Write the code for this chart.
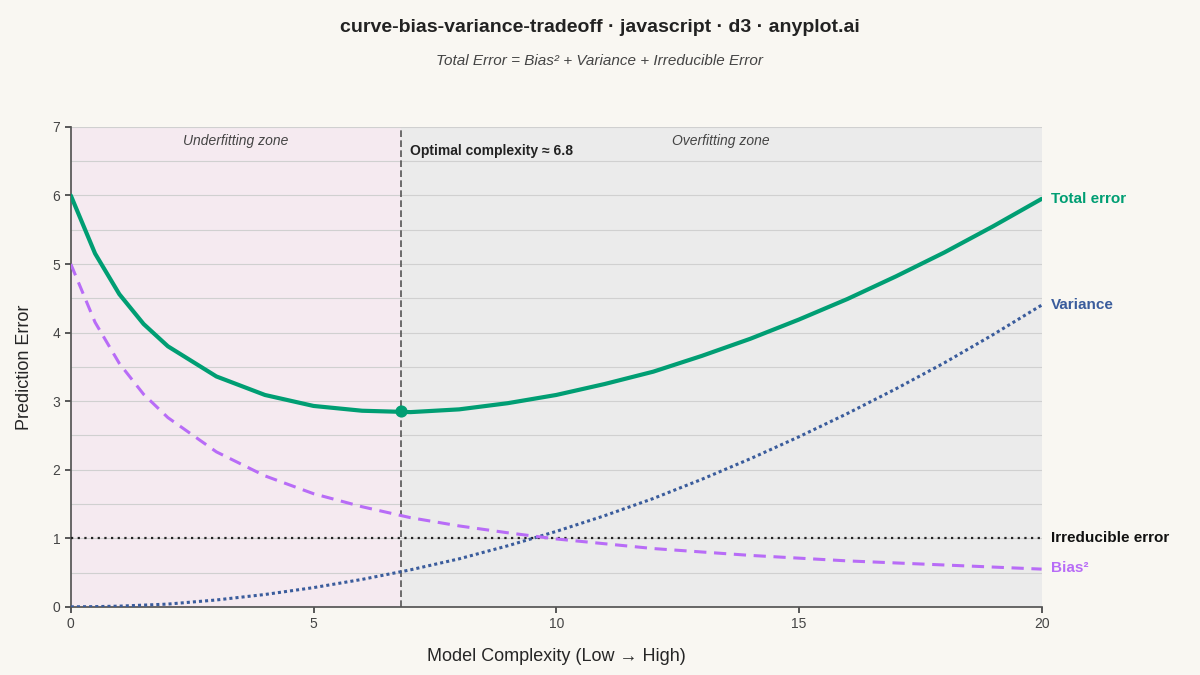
import numpy as np, pandas as pd, seaborn as sns, matplotlib
matplotlib.use("Agg")
import matplotlib.pyplot as plt

complexity = [0, 0.5, 1, 1.5, 2, 3, 4, 5, 6, 7, 8, 9, 10, 11, 12, 13, 14, 15, 16, 17, 18, 19, 20]
bias_sq = [5.0, 4.15, 3.55, 3.1, 2.76, 2.26, 1.91, 1.65, 1.46, 1.30, 1.18, 1.08, 0.99, 0.92, 0.85, 0.80, 0.75, 0.71, 0.67, 0.64, 0.61, 0.58, 0.55]
variance = [0, 0.003, 0.01, 0.025, 0.04, 0.10, 0.18, 0.28, 0.40, 0.54, 0.70, 0.89, 1.10, 1.33, 1.58, 1.86, 2.16, 2.48, 2.82, 3.18, 3.56, 3.97, 4.40]
irreducible = 1.0
optimal_x, optimal_y = 6.8, 2.85

df = pd.DataFrame({"x": complexity, "bias": bias_sq, "var": variance})
df["total"] = df["bias"] + df["var"] + irreducible

sns.set_theme(style="white")
plt.rcParams["font.family"] = ["Liberation Sans", "DejaVu Sans"]
bg = "#f9f7f2"
fig = plt.figure(figsize=(12, 6.75), dpi=100, facecolor=bg)
ax = fig.add_axes([0.059, 0.101, 0.809, 0.711], facecolor=bg)
ax.axvspan(0, optimal_x, color="#f5eaf0", zorder=0)
ax.axvspan(optimal_x, 20, color="#ebebeb", zorder=0)
for g in np.arange(0.5, 7.01, 0.5):
    ax.axhline(g, color="#d0d0d0", lw=0.8, zorder=1)

green, blue, purple = "#009e73", "#3a5c9c", "#b86cf7"
sns.lineplot(data=df, x="x", y="total", ax=ax, color=green, lw=3, zorder=5)
sns.lineplot(data=df, x="x", y="var", ax=ax, color=blue, lw=2.2, ls=(0, (1, 1)), zorder=4)
sns.lineplot(data=df, x="x", y="bias", ax=ax, color=purple, lw=2.2, ls=(0, (4, 2.5)), zorder=4)
ax.axhline(irreducible, color="#222222", lw=1.6, ls=(0, (1, 2)), zorder=3)
ax.axvline(optimal_x, color="#555555", lw=1.2, ls=(0, (4, 2)), zorder=3)
ax.scatter([optimal_x], [optimal_y], color=green, s=60, zorder=6)

ax.set_xlim(0, 20); ax.set_ylim(0, 7)
ax.set_xticks([0, 5, 10, 15, 20]); ax.set_yticks(range(8))
ax.tick_params(labelsize=10, colors="#444444", length=4, left=True, bottom=True)
for s in ["top", "right"]:
    ax.spines[s].set_visible(False)
for s in ["left", "bottom"]:
    ax.spines[s].set_color("#555555")
ax.set_xlabel("Model Complexity (Low → High)", fontsize=13, labelpad=12)
ax.set_ylabel("Prediction Error", fontsize=13, labelpad=14)

ax.text(3.4, 6.9, "Underfitting zone", ha="center", va="top", style="italic", fontsize=10, color="#444444")
ax.text(13.4, 6.9, "Overfitting zone", ha="center", va="top", style="italic", fontsize=10, color="#444444")
ax.text(6.98, 6.65, "Optimal complexity ≈ 6.8", ha="left", va="center", fontsize=10, weight="bold", color="#222222")
lab = dict(ha="left", va="center", fontsize=11, weight="bold", clip_on=False)
ax.text(20.2, df["total"].iloc[-1], "Total error", color=green, **lab)
ax.text(20.2, variance[-1], "Variance", color=blue, **lab)
ax.text(20.2, 1.0, "Irreducible error", color="#111111", **lab)
ax.text(20.2, 0.56, "Bias²", color=purple, **lab)

fig.text(0.5, 0.96, "curve-bias-variance-tradeoff · javascript · d3 · anyplot.ai", ha="center", va="center", fontsize=14, weight="bold", color="#222222")
fig.text(0.5, 0.91, "Total Error = Bias² + Variance + Irreducible Error", ha="center", va="center", fontsize=11, style="italic", color="#444444")
fig.savefig("out.png", dpi=100, facecolor=bg)
